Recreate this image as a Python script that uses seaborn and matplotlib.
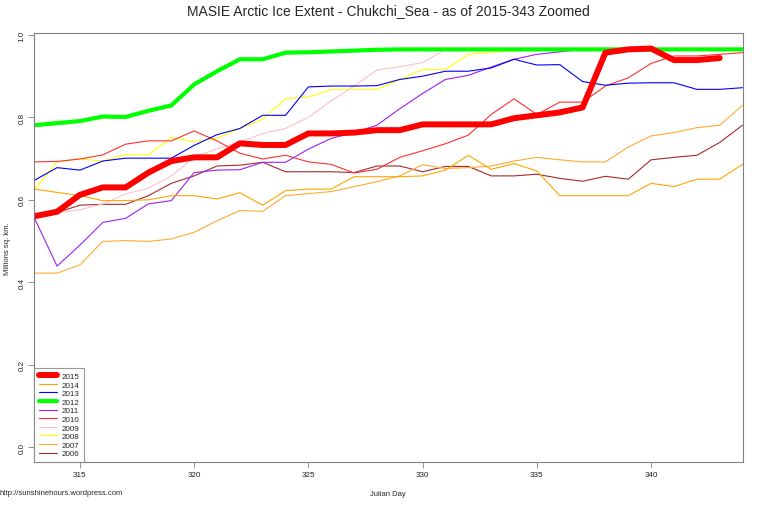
import pandas as pd
import matplotlib
matplotlib.use("Agg")
import matplotlib.pyplot as plt
from matplotlib.lines import Line2D
import seaborn as sns

# Julian days shown on the zoomed chart
days = list(range(313, 345))

# extent (millions sq. km) per year
y2015 = [0.560, 0.571, 0.612, 0.630, 0.630, 0.666, 0.694, 0.703, 0.703, 0.737, 0.733,
         0.733, 0.761, 0.761, 0.763, 0.769, 0.769, 0.783, 0.783, 0.783, 0.783, 0.798,
         0.805, 0.812, 0.824, 0.957, 0.965, 0.967, 0.939, 0.939, 0.944]
y2014 = [0.626, 0.618, 0.610, 0.598, 0.598, 0.600, 0.610, 0.610, 0.602, 0.617, 0.587,
         0.622, 0.626, 0.626, 0.656, 0.656, 0.656, 0.658, 0.672, 0.708, 0.674, 0.688,
         0.670, 0.610, 0.610, 0.610, 0.610, 0.640, 0.632, 0.650, 0.650, 0.686]
y2013 = [0.647, 0.678, 0.672, 0.694, 0.701, 0.701, 0.701, 0.732, 0.758, 0.773, 0.805,
         0.805, 0.874, 0.876, 0.876, 0.877, 0.892, 0.900, 0.912, 0.912, 0.920, 0.941,
         0.927, 0.928, 0.887, 0.878, 0.883, 0.884, 0.884, 0.868, 0.868, 0.872]
y2012 = [0.781, 0.786, 0.791, 0.802, 0.801, 0.816, 0.829, 0.880, 0.912, 0.941, 0.941,
         0.957, 0.958, 0.960, 0.962, 0.964, 0.965, 0.965, 0.965, 0.965, 0.965, 0.965,
         0.965, 0.965, 0.965, 0.965, 0.965, 0.965, 0.965, 0.965, 0.965, 0.965]
y2011 = [0.557, 0.439, 0.490, 0.545, 0.555, 0.590, 0.598, 0.666, 0.672, 0.673, 0.691,
         0.691, 0.723, 0.749, 0.763, 0.781, 0.821, 0.858, 0.892, 0.902, 0.922, 0.941,
         0.953, 0.959, 0.965, 0.965, 0.965, 0.965, 0.965, 0.965, 0.965, 0.965]
y2010 = [0.692, 0.693, 0.699, 0.709, 0.735, 0.743, 0.743, 0.767, 0.743, 0.713, 0.699,
         0.708, 0.692, 0.686, 0.665, 0.674, 0.703, 0.719, 0.736, 0.757, 0.807, 0.845,
         0.807, 0.837, 0.837, 0.876, 0.896, 0.931, 0.949, 0.949, 0.953, 0.957]
y2009 = [0.559, 0.568, 0.576, 0.590, 0.614, 0.628, 0.658, 0.703, 0.724, 0.740, 0.761,
         0.773, 0.800, 0.840, 0.876, 0.915, 0.923, 0.933, 0.965, 0.965, 0.965, 0.965,
         0.965, 0.965, 0.965, 0.965, 0.965, 0.965, 0.965, 0.965, 0.965, 0.965]
y2008 = [0.624, 0.692, 0.699, 0.694, 0.709, 0.709, 0.751, 0.741, 0.749, 0.773, 0.795,
         0.846, 0.849, 0.868, 0.868, 0.868, 0.892, 0.916, 0.916, 0.953, 0.958, 0.962,
         0.965, 0.965, 0.965, 0.965, 0.965, 0.965, 0.965, 0.965, 0.965, 0.965]
y2007 = [0.422, 0.422, 0.442, 0.499, 0.501, 0.499, 0.505, 0.521, 0.549, 0.574, 0.572,
         0.610, 0.615, 0.620, 0.632, 0.644, 0.658, 0.685, 0.676, 0.678, 0.682, 0.694,
         0.703, 0.697, 0.692, 0.692, 0.728, 0.755, 0.763, 0.775, 0.781, 0.829]
y2006 = [0.560, 0.569, 0.587, 0.589, 0.589, 0.610, 0.640, 0.658, 0.682, 0.684, 0.691,
         0.668, 0.668, 0.668, 0.666, 0.682, 0.682, 0.668, 0.681, 0.681, 0.658, 0.658,
         0.662, 0.652, 0.645, 0.657, 0.650, 0.697, 0.703, 0.708, 0.739, 0.781]

years = ["2015", "2014", "2013", "2012", "2011", "2010", "2009", "2008", "2007", "2006"]
series = [y2015, y2014, y2013, y2012, y2011, y2010, y2009, y2008, y2007, y2006]
colors = ["#FF0000", "#FFA500", "#0000FF", "#00FF00", "#A020F0",
          "#FF3030", "#FFC0CB", "#FFFF00", "#FFAA33", "#A52A2A"]
widths = [4.3, 0.8, 0.8, 3.0, 0.8, 0.8, 0.8, 0.8, 0.8, 0.8]

sns.set_style("white")
plt.rcParams["font.family"] = ["Liberation Sans", "DejaVu Sans"]

fig = plt.figure(figsize=(7.6, 5.06), dpi=100)
ax = fig.add_axes([0.045, 0.0844, 0.932, 0.8478])

# older years first so 2015 ends up on top
for yr, vals, c, w in reversed(list(zip(years, series, colors, widths))):
    df = pd.DataFrame({"day": days[:len(vals)], "extent": vals})
    sns.lineplot(data=df, x="day", y="extent", color=c, linewidth=w, ax=ax)

ax.set_xlim(313, 344)
ax.set_ylim(-0.037, 1.004)
ax.set_xticks([315, 320, 325, 330, 335, 340])
ax.set_yticks([0.0, 0.2, 0.4, 0.6, 0.8, 1.0])
ax.set_yticklabels(["0.0", "0.2", "0.4", "0.6", "0.8", "1.0"], rotation=90, va="center")
ax.tick_params(axis="both", labelsize=5.8, labelcolor="#222222", length=4, width=0.6,
               color="#808080", direction="out", bottom=True, left=True, pad=2)
for sp in ax.spines.values():
    sp.set_color("#808080")
    sp.set_linewidth(0.8)

ax.set_title("MASIE Arctic Ice Extent - Chukchi_Sea - as of 2015-343 Zoomed",
             fontsize=10, pad=14)
ax.set_xlabel("Julian Day", fontsize=5.5, labelpad=9)
ax.set_ylabel("Millions sq. km.", fontsize=5.5, labelpad=6)

handles = [Line2D([], [], color=c, linewidth=w) for c, w in zip(colors, widths)]
leg = ax.legend(handles, years, loc="lower left",
                fontsize=5.8, frameon=True, fancybox=False, borderaxespad=0,
                handlelength=2.2, handletextpad=0.6, labelspacing=0.12,
                borderpad=0.6)
leg.get_frame().set_edgecolor("#808080")
leg.get_frame().set_linewidth(0.8)

fig.text(0.0, 0.022, "http://sunshinehours.wordpress.com", fontsize=5.5, ha="left")

fig.savefig("out.png", dpi=100)
